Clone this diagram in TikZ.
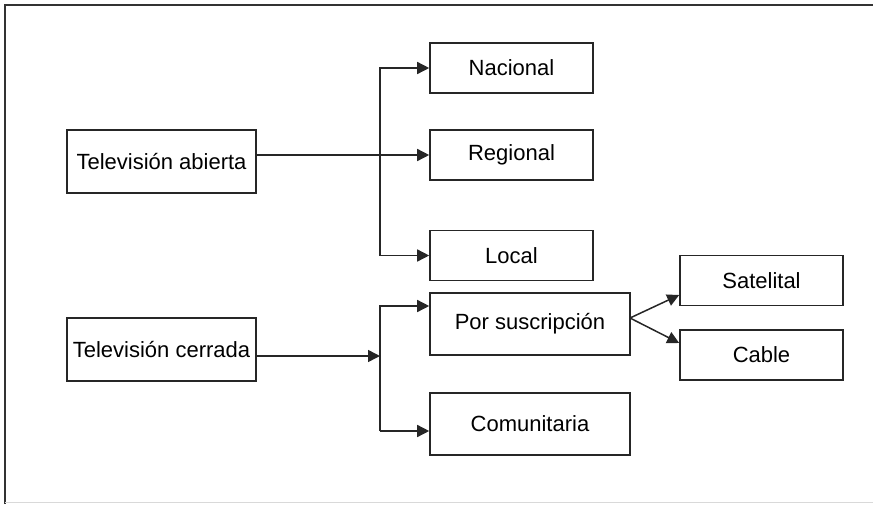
\documentclass[tikz,border=0pt]{standalone}
\usepackage{fontspec}
\setmainfont{Liberation Sans}
\usetikzlibrary{arrows.meta}

\begin{document}
\begin{tikzpicture}[x=1pt,y=-1pt,
		box/.style={draw=black!85,line width=1.6pt,inner sep=0pt,
			minimum height=50pt,font=\fontsize{22}{26}\selectfont},
		tall/.style={minimum height=63pt},
		link/.style={draw=black!85,line width=1.5pt,-{Triangle[length=12pt,width=12pt]}}]
	\useasboundingbox (0,0) rectangle (873,504);
	% frame
	\draw[black!80,line width=1.6pt] (5,504) -- (5,5) -- (873,5);
	\draw[black!15,line width=1.4pt] (5,502.5) -- (873,502.5);

	\node[box,tall,minimum width=189pt] (abierta) at (161.5,161.5) {Televisión abierta};
	\node[box,tall,minimum width=189pt] (cerrada) at (161.5,349.5) {Televisión cerrada};

	\node[box,minimum width=163pt] (nacional) at (511.5,68) {Nacional};
	\node[box,minimum width=163pt] (regional) at (511.5,155) {Regional};
	\node[box,minimum width=163pt] (local) at (511.5,255.5) {Local};

	\node[box,minimum width=200pt,minimum height=62pt] (suscripcion) at (530,324) {Por suscripción};
	\node[box,minimum width=200pt,minimum height=62pt] (comunitaria) at (530,424) {Comunitaria};

	\node[box,minimum width=163pt] (satelital) at (761.5,280.5) {Satelital};
	\node[box,minimum width=163pt] (cable) at (761.5,355) {Cable};

	\coordinate (trunkA) at (380,155);
	\coordinate (trunkB) at (380,356);
	\coordinate (fork) at (630,318);

	% open television
	\draw[link] (abierta.east |- trunkA) -- (regional.west);
	\draw[link] (trunkA |- local.west) -- (trunkA |- nacional.west) -- (nacional.west);
	\draw[link] (trunkA |- local.west) -- (local.west);

	% closed television
	\draw[link] (cerrada.east |- trunkB) -- (trunkB);
	\draw[link] (trunkB |- 0,431) -- (trunkB |- 0,306) -- (suscripcion.west |- 0,306);
	\draw[link] (trunkB |- 0,431) -- (comunitaria.west |- 0,431);
	\draw[link] (fork) -- (satelital.west |- 0,295);
	\draw[link] (fork) -- (cable.west |- 0,343);
\end{tikzpicture}
\end{document}
